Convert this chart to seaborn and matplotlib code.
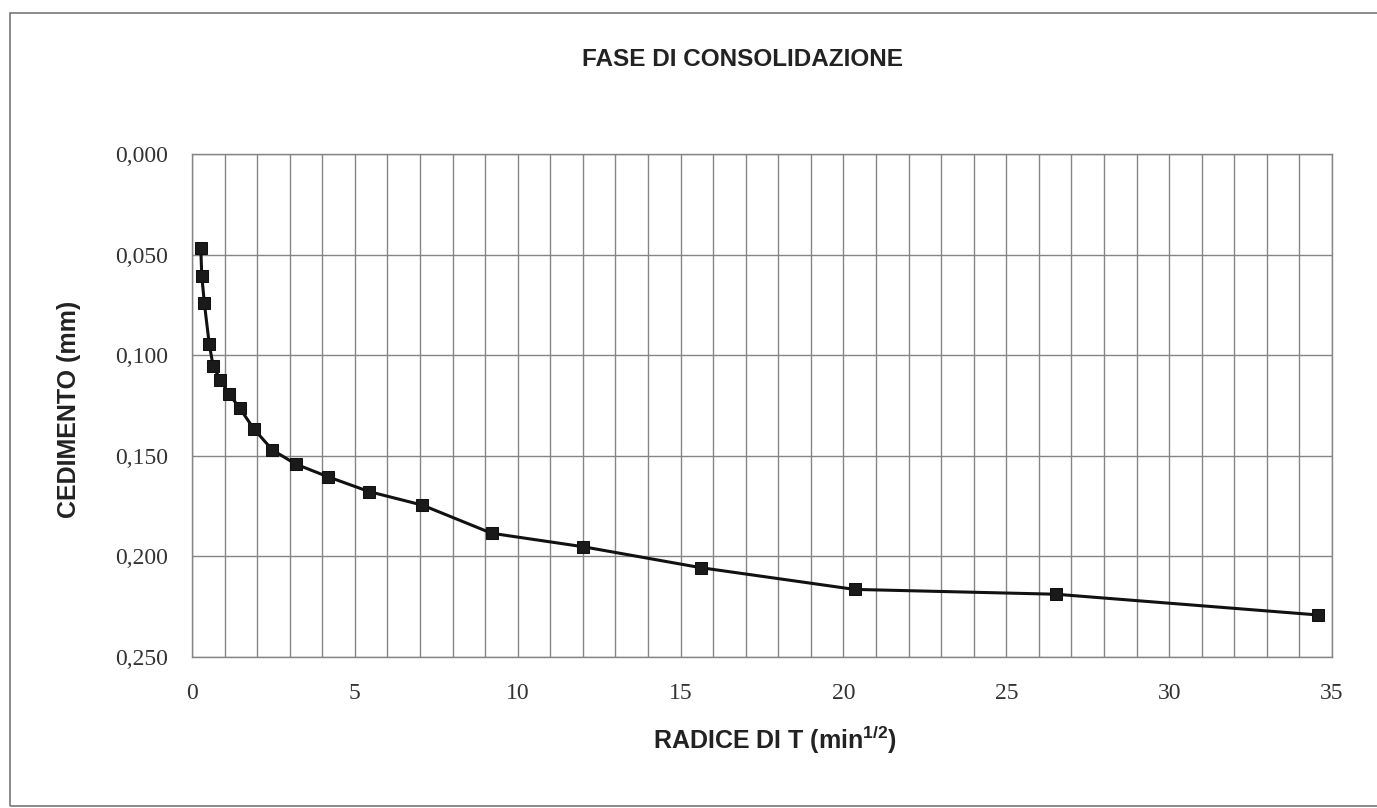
import matplotlib
matplotlib.use("Agg")
import matplotlib.pyplot as plt
import seaborn as sns
import pandas as pd
from matplotlib.ticker import FuncFormatter, MultipleLocator
from matplotlib.patches import Rectangle

# Data
radice_t = [0.27, 0.30, 0.38, 0.53, 0.65, 0.87, 1.14, 1.47, 1.90, 2.47,
            3.18, 4.17, 5.44, 7.07, 9.20, 12.01, 15.62, 20.34, 26.52, 34.56]
cedimento = [0.0469, 0.0605, 0.0742, 0.0946, 0.1054, 0.1123, 0.1193, 0.1264,
             0.1367, 0.1471, 0.1541, 0.1604, 0.1678, 0.1745, 0.1885, 0.1952,
             0.2056, 0.2164, 0.2188, 0.2291]
x_ticks = [0, 5, 10, 15, 20, 25, 30, 35]
y_ticks = [0.000, 0.050, 0.100, 0.150, 0.200, 0.250]

title_text = "FASE DI CONSOLIDAZIONE"
xlabel_text = r"RADICE DI T (min$^{\mathbf{1/2}}$)"
ylabel_text = "CEDIMENTO (mm)"

sns.set_style("white")
plt.rcParams["font.family"] = ["Liberation Sans", "DejaVu Sans"]
plt.rcParams["mathtext.fontset"] = "custom"
plt.rcParams["mathtext.bf"] = "Liberation Sans:bold"
plt.rcParams["mathtext.rm"] = "Liberation Sans"

df = pd.DataFrame({"x": radice_t, "y": cedimento})

W, H = 1377, 808
fig = plt.figure(figsize=(W / 100, H / 100), dpi=100)
ax = fig.add_axes([192 / W, 1 - 657 / H, (1332 - 192) / W, (657 - 154) / H])

grid_c = "#858585"
ax.set_xlim(0, 35)
ax.set_ylim(0.25, 0.0)
ax.xaxis.set_major_locator(MultipleLocator(5))
ax.xaxis.set_minor_locator(MultipleLocator(1))
ax.set_xticks(x_ticks)
ax.set_yticks(y_ticks)
ax.grid(which="both", axis="x", color=grid_c, linewidth=1.0)
ax.grid(which="major", axis="y", color=grid_c, linewidth=1.0)
ax.set_axisbelow(True)

sns.lineplot(data=df, x="x", y="y", ax=ax, sort=False, estimator=None,
             color="#111111", linewidth=2.2, marker="s", markersize=8,
             markeredgecolor="#111111", markerfacecolor="#1a1a1a")

for s in ax.spines.values():
    s.set_color(grid_c)
    s.set_linewidth(1.0)

ax.yaxis.set_major_formatter(FuncFormatter(lambda v, p: f"{v:.3f}".replace(".", ",")))
ax.xaxis.set_major_formatter(FuncFormatter(lambda v, p: f"{int(round(v))}"))
ax.tick_params(axis="both", which="major", direction="out", length=7,
               width=1.0, color=grid_c, labelcolor="#333333", labelsize=17)
ax.tick_params(axis="x", which="major", pad=12)
ax.tick_params(axis="y", which="major", pad=10)
ax.tick_params(axis="x", which="minor", length=0)
for lab in ax.get_xticklabels() + ax.get_yticklabels():
    lab.set_fontfamily(["Liberation Serif", "DejaVu Serif"])

ax.set_xlabel("")
ax.set_ylabel("")

fig.text(742 / W, 1 - 60 / H, title_text, ha="center", va="center",
         fontsize=17.5, fontweight="bold", color="#222222")
fig.text(775 / W, 1 - 740 / H, xlabel_text, ha="center", va="center",
         fontsize=18, fontweight="bold", color="#222222")
fig.text(69 / W, 1 - 409 / H, ylabel_text, ha="center", va="center",
         rotation=90, fontsize=18, fontweight="bold", color="#222222")

# outer chart frame
fig.patches.append(Rectangle((10 / W, 1 - 806 / H), (1400 - 10) / W, (806 - 13) / H,
                             transform=fig.transFigure, fill=False,
                             edgecolor="#777777", linewidth=1.2))

fig.savefig("out.png", dpi=100, facecolor="white")
